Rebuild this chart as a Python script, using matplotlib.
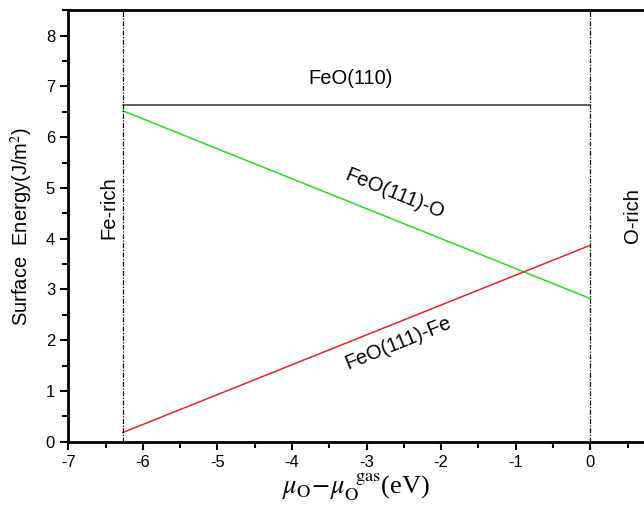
import matplotlib
matplotlib.use("Agg")
import matplotlib.pyplot as plt
from matplotlib.ticker import MultipleLocator

matplotlib.rcParams.update({
    "font.family": "Liberation Sans",
    "mathtext.fontset": "stix",
    "axes.unicode_minus": False,
})

# chemical potential limits (eV)
mu_fe_rich = -6.27
mu_o_rich = 0.0

# surface energies at the two limits (J/m^2)
feo110 = [6.63, 6.63]
feo111_o = [6.52, 2.82]
feo111_fe = [0.18, 3.87]

fig = plt.figure(figsize=(6.44, 5.13), dpi=100)
ax = fig.add_axes([0.106, 0.139, 0.894, 0.841])

mu = [mu_fe_rich, mu_o_rich]
ax.plot(mu, feo110, color="#333333", lw=1.1)
ax.plot(mu, feo111_o, color="#22dd22", lw=1.1)
ax.plot(mu, feo111_fe, color="#ee2222", lw=1.1)
for x in mu:
    ax.axvline(x, color="black", lw=0.9, ls=(0, (4, 1.2, 1, 1.2)))

ax.set_xlim(-7, 0.72)
ax.set_ylim(0, 8.5)
ax.xaxis.set_major_locator(MultipleLocator(1))
ax.xaxis.set_minor_locator(MultipleLocator(0.5))
ax.yaxis.set_major_locator(MultipleLocator(1))
ax.yaxis.set_minor_locator(MultipleLocator(0.5))
ax.tick_params(which="major", direction="out", length=6, width=1.5, labelsize=12)
ax.tick_params(which="minor", direction="out", length=4, width=1.5)
for s in ("left", "bottom", "top"):
    ax.spines[s].set_linewidth(2)
ax.spines["right"].set_visible(False)

fs = 14.5
ax.text(-3.22, 7.16, "FeO(110)", ha="center", va="center", fontsize=fs)
ax.text(-2.62, 4.89, "FeO(111)-O", ha="center", va="center", fontsize=fs, rotation=-22)
ax.text(-2.58, 1.94, "FeO(111)-Fe", ha="center", va="center", fontsize=fs, rotation=22)
ax.text(-6.45, 4.62, "Fe-rich", ha="center", va="center", fontsize=fs, rotation=90)
ax.text(0.56, 4.45, "O-rich", ha="center", va="center", fontsize=fs, rotation=90)

ax.set_ylabel("Surface  Energy(J/m$^2$)", fontsize=14.5, labelpad=8)
ax.set_xlabel(r"$\mu_{\rm O}\!-\!\mu_{\rm O}^{\ \ \rm gas}$(eV)", fontsize=19,
              family="Liberation Serif", labelpad=1)

fig.savefig("out.png", dpi=100)
